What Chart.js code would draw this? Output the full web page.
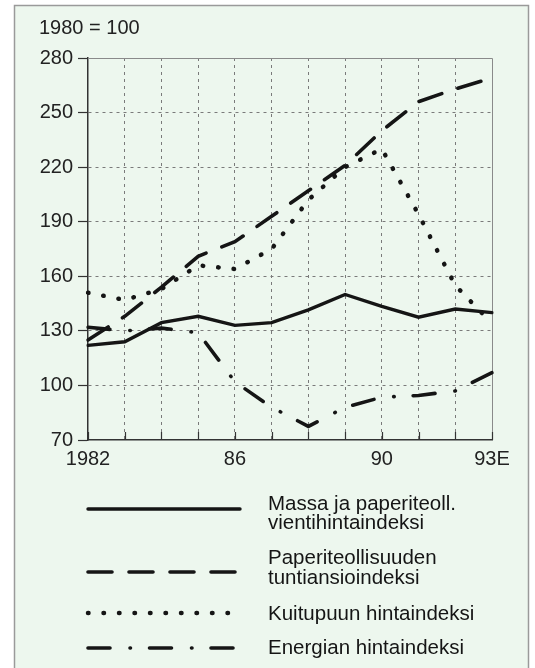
<!DOCTYPE html>
<html>
<head>
<meta charset="utf-8">
<script src="https://cdn.jsdelivr.net/npm/chart.js@4.4.1/dist/chart.umd.min.js"></script>
<style>
  html, body { margin: 0; padding: 0; background: #fff; }
  canvas { display: block; }
</style>
</head>
<body>
<canvas id="indexChart" width="535" height="668"></canvas>
<script>
// Values, 1980 = 100
var years = ['1982', '1983', '1984', '1985', '1986', '1987', '1988', '1989', '1990', '1991', '1992', '1993'];
var yearTicks = ['1982', '', '', '', '86', '', '', '', '90', '', '', '93E'];
var yTicks = [70, 100, 130, 160, 190, 220, 250, 280];

var massaValues = [122, 124, 134.5, 138, 133, 134.5, 141.5, 150, 143.5, 137.5, 142, 140];
var ansioValues = [125, 138, 154, 171, 179, 193, 207, 221, 240, 256, 263, 269];
var kuituValues = [151, 147, 153, 166, 164, 175, 202, 220, 230, 194, 155, 134];
var energiaValues = [132, 130, 131.5, 129, 102, 88, 77.5, 88, 93.5, 94.5, 97, 107];

var seriesNames = [
    ['Massa ja paperiteoll.', 'vientihintaindeksi'],
    ['Paperiteollisuuden', 'tuntiansioindeksi'],
    ['Kuitupuun hintaindeksi'],
    ['Energian hintaindeksi']
];

var fontFamily = '"Liberation Sans", Arial, Helvetica, sans-serif';
var ink = '#151515';

// legend rows: where the sample line sits and where the text baselines go
var legendRows = [
    { lineY: 509, textY: [510, 529] },
    { lineY: 572, textY: [564, 584] },
    { lineY: 613, textY: [620] },
    { lineY: 648, textY: [654] }
];

var pagePlugin = {
    id: 'page',
    beforeDraw: function (chart) {
        var ctx = chart.ctx;
        ctx.save();
        ctx.fillStyle = '#ffffff';
        ctx.fillRect(0, 0, chart.width, chart.height);
        ctx.fillStyle = '#edf7ee';
        ctx.fillRect(14, 5, 515, 680);
        ctx.strokeStyle = '#9a9a9a';
        ctx.lineWidth = 1.5;
        ctx.strokeRect(14.5, 5.5, 514, 700);
        ctx.fillStyle = '#222';
        ctx.font = '20px ' + fontFamily;
        ctx.textBaseline = 'alphabetic';
        ctx.textAlign = 'left';
        ctx.fillText('1980 = 100', 39, 34);
        ctx.restore();
    },
    beforeDatasetsDraw: function (chart) {
        var a = chart.chartArea, ctx = chart.ctx, xs = chart.scales.x;
        ctx.save();
        // top and right frame of the plot
        ctx.strokeStyle = '#8a8a8a';
        ctx.lineWidth = 1;
        ctx.beginPath();
        ctx.moveTo(a.left, a.top + 0.5);
        ctx.lineTo(a.right + 0.5, a.top + 0.5);
        ctx.lineTo(a.right + 0.5, a.bottom);
        ctx.stroke();
        // year ticks pointing into the plot
        ctx.strokeStyle = '#333';
        ctx.lineWidth = 1.2;
        ctx.beginPath();
        for (var i = 0; i < years.length; i++) {
            var px = Math.round(xs.getPixelForTick(i)) + 0.5;
            ctx.moveTo(px, a.bottom);
            ctx.lineTo(px, a.bottom - 8);
        }
        ctx.stroke();
        ctx.restore();
    },
    afterDraw: function (chart) {
        var ctx = chart.ctx;
        ctx.save();
        chart.data.datasets.forEach(function (ds, i) {
            var row = legendRows[i];
            ctx.strokeStyle = ds.borderColor;
            ctx.lineWidth = ds.borderWidth;
            ctx.lineCap = ds.borderCapStyle || 'butt';
            ctx.setLineDash(ds.borderDash || []);
            ctx.beginPath();
            ctx.moveTo(88, row.lineY);
            ctx.lineTo(240, row.lineY);
            ctx.stroke();
            ctx.setLineDash([]);
            ctx.fillStyle = ink;
            ctx.font = '20.5px ' + fontFamily;
            ctx.textAlign = 'left';
            ctx.textBaseline = 'alphabetic';
            seriesNames[i].forEach(function (txt, j) {
                ctx.fillText(txt, 268, row.textY[j]);
            });
        });
        ctx.restore();
    }
};

function gridX(c) {
    return (c.index === 0 || c.index === years.length - 1) ? 'rgba(0,0,0,0)' : '#7a7a7a';
}
function gridY(c) {
    var v = c.tick ? c.tick.value : null;
    return (v === 70 || v === 280) ? 'rgba(0,0,0,0)' : '#7a7a7a';
}

var ctx = document.getElementById('indexChart').getContext('2d');
var indexChart = new Chart(ctx, {
    type: 'line',
    data: {
        labels: years,
        datasets: [{
            label: seriesNames[0].join(' '),
            data: massaValues,
            borderColor: ink,
            borderWidth: 3.4,
            borderCapStyle: 'round',
            borderDash: []
        }, {
            label: seriesNames[1].join(' '),
            data: ansioValues,
            borderColor: ink,
            borderWidth: 3.6,
            borderCapStyle: 'round',
            borderDash: [24, 17]
        }, {
            label: seriesNames[2].join(' '),
            data: kuituValues,
            borderColor: ink,
            borderWidth: 4.5,
            borderCapStyle: 'round',
            borderDash: [0.5, 15]
        }, {
            label: seriesNames[3].join(' '),
            data: energiaValues,
            borderColor: ink,
            borderWidth: 3.6,
            borderCapStyle: 'round',
            borderDash: [22, 20, 0.5, 19]
        }]
    },
    options: {
        responsive: false,
        devicePixelRatio: 1,
        animation: false,
        layout: { padding: { left: 0, top: 58, right: 43, bottom: 198 } },
        elements: {
            point: { radius: 0 },
            line: { tension: 0, fill: false }
        },
        plugins: {
            legend: { display: false },
            tooltip: { enabled: false }
        },
        scales: {
            x: {
                grid: { color: gridX, lineWidth: 1, drawTicks: false },
                border: { display: true, color: '#333', width: 1.5, dash: [3, 4] },
                ticks: {
                    autoSkip: false,
                    maxRotation: 0,
                    padding: 7,
                    color: '#222',
                    font: { family: fontFamily, size: 20 },
                    callback: function (v, i) { return yearTicks[i]; }
                },
                afterFit: function (s) { s.height = 30; }
            },
            y: {
                min: 70,
                max: 280,
                afterBuildTicks: function (s) {
                    s.ticks = yTicks.map(function (v) { return { value: v }; });
                },
                grid: { color: gridY, lineWidth: 1, drawTicks: true, tickLength: 10, tickColor: '#333', tickWidth: 1.2 },
                border: { display: true, color: '#333', width: 1.5, dash: [3, 4] },
                ticks: {
                    padding: 5,
                    color: '#222',
                    font: { family: fontFamily, size: 20 }
                },
                afterFit: function (s) { s.width = 88; }
            }
        }
    },
    plugins: [pagePlugin]
});
</script>
</body>
</html>
